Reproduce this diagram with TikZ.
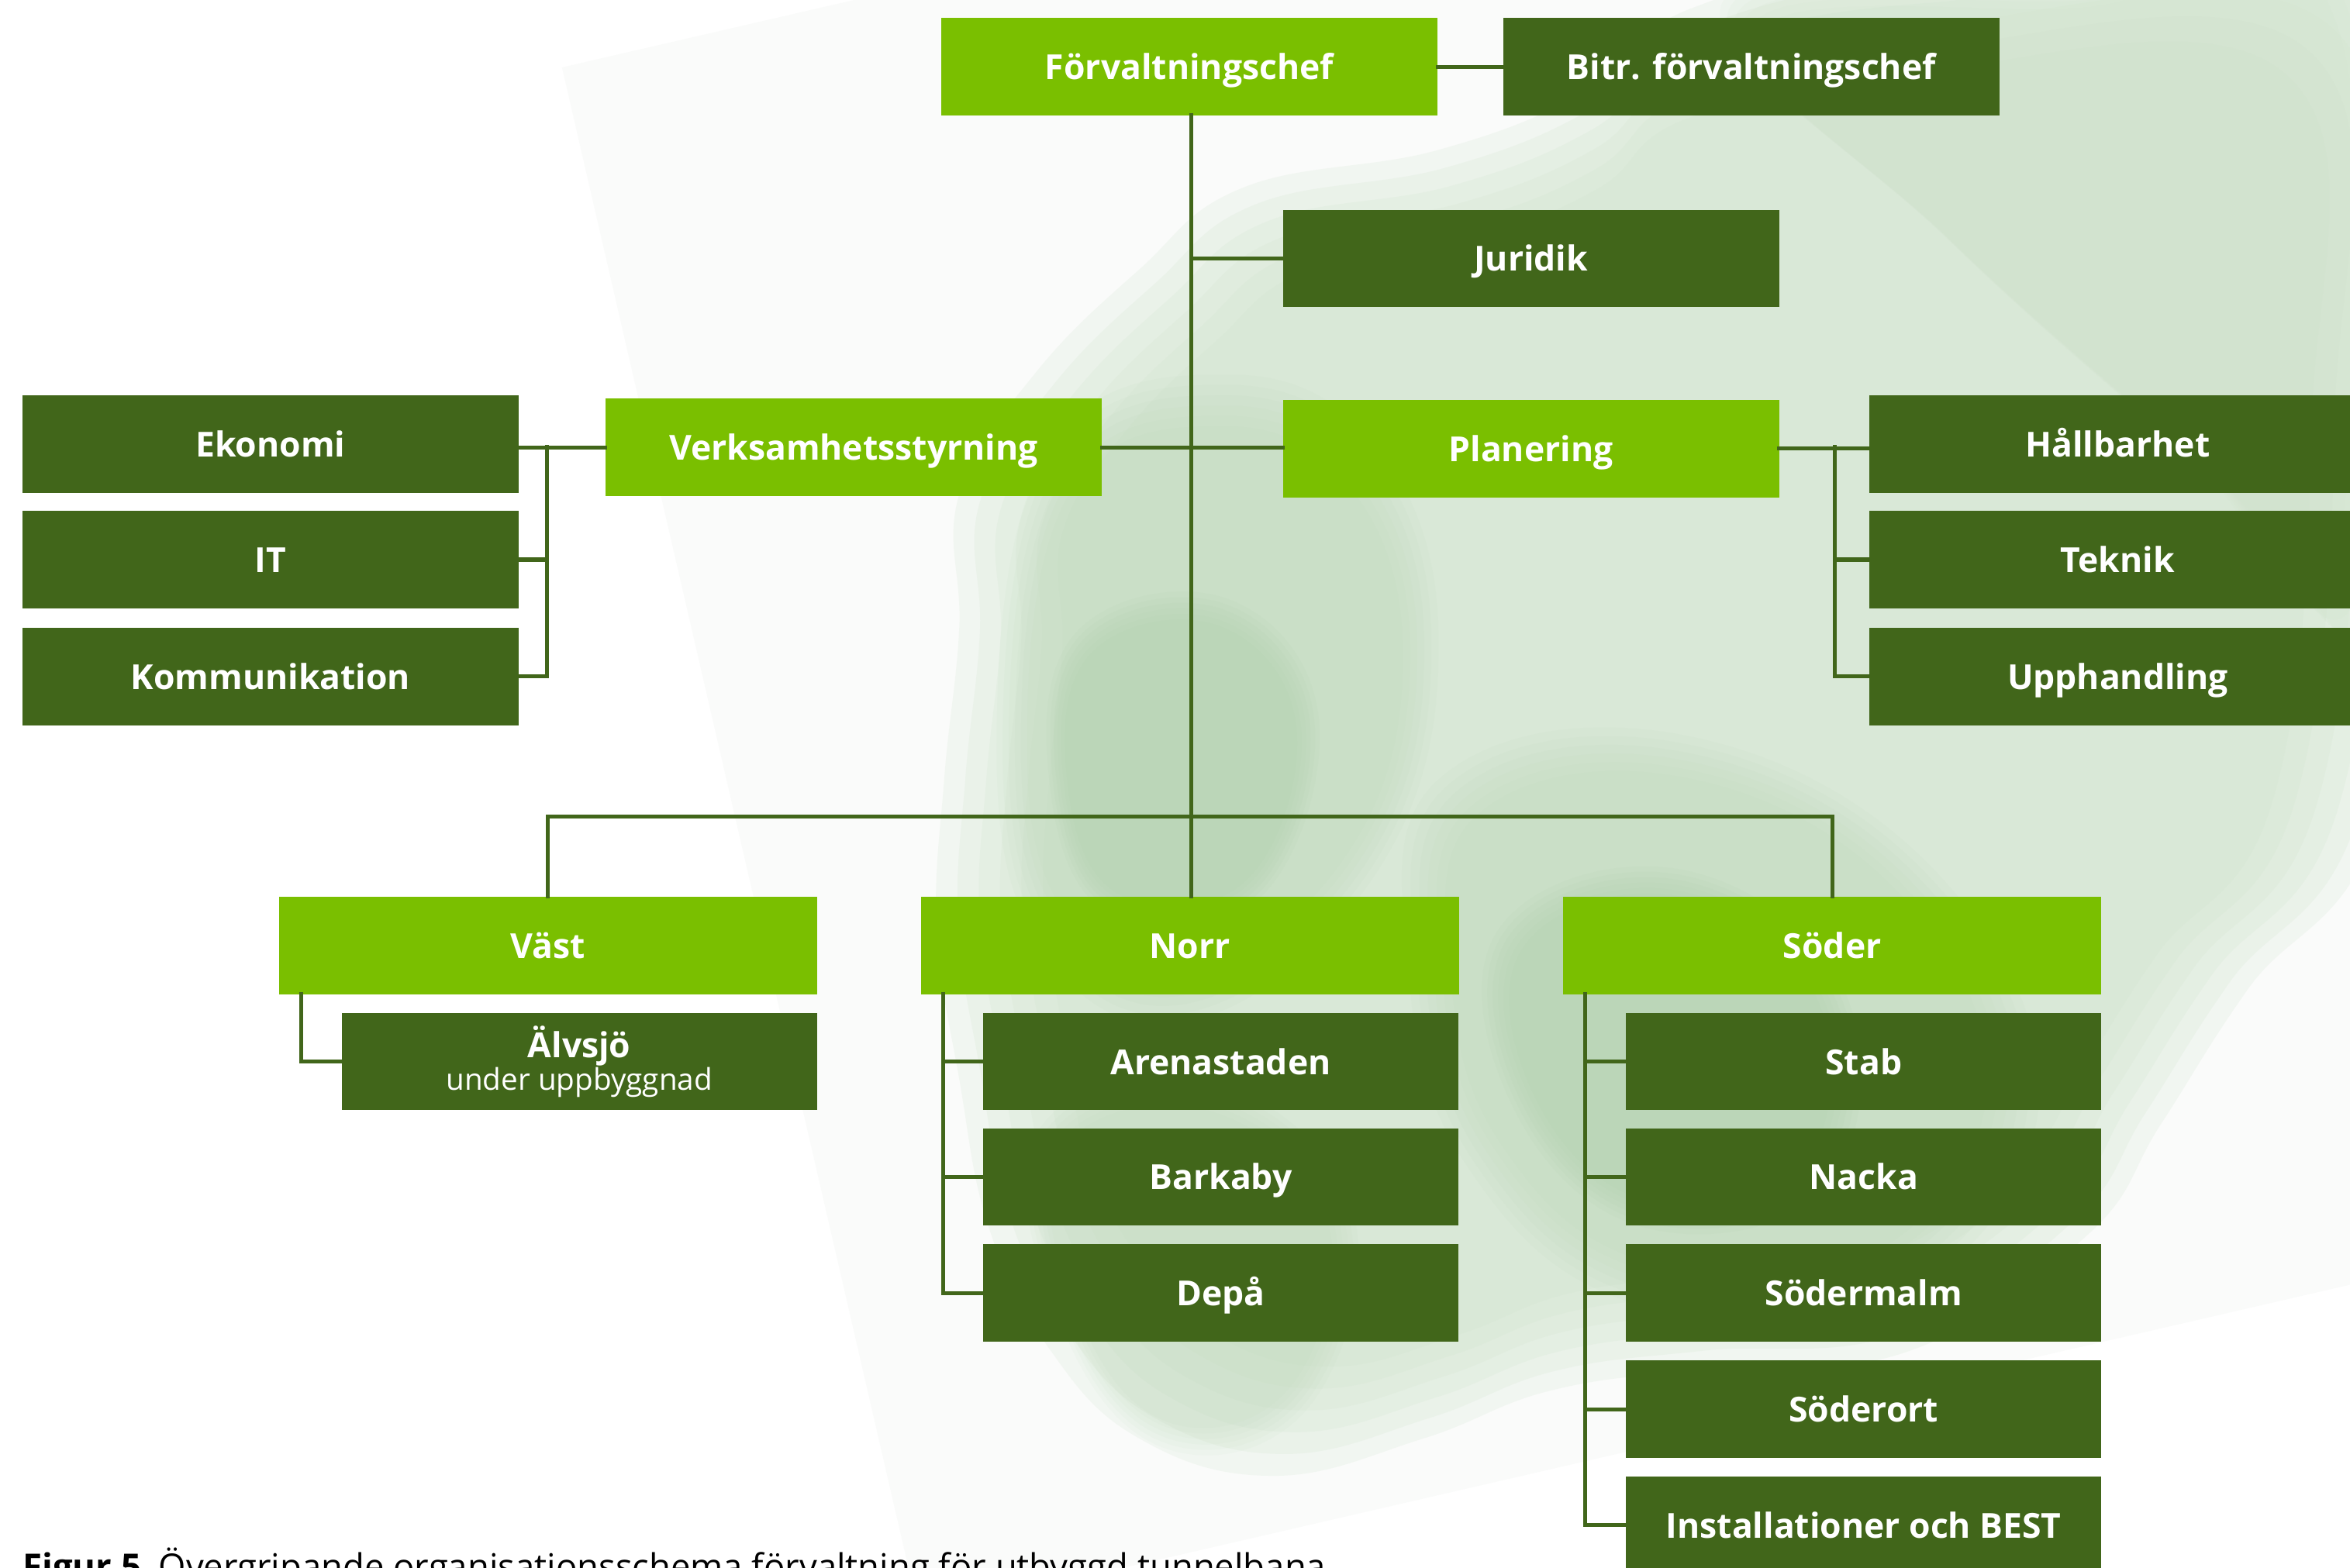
\documentclass[tikz,border=0pt]{standalone}
\usepackage{fontspec}
\setmainfont{Open Sans}
\definecolor{lt}{HTML}{7ABF00}
\definecolor{dk}{HTML}{41661A}
\definecolor{wash1}{HTML}{CFE3CB}
\definecolor{wash2}{HTML}{B4D4B0}
\definecolor{wash3}{HTML}{9CC698}
\definecolor{paper}{HTML}{FAFBFA}
\tikzset{
  box/.style={rectangle, inner sep=0pt, minimum height=65, text=white,
    font=\bfseries\fontsize{23}{27}\selectfont, align=center,
    text height=17pt, text depth=0pt},
  dbox/.style={box, fill=dk, minimum width=331},
  lbox/.style={box, fill=lt, minimum width=331},
  region/.style={box, fill=lt, minimum width=359},
  sub/.style={box, fill=dk, minimum width=317},
  link/.style={draw=dk, line width=2.6pt, line cap=rect}
}
% a patch of wash with soft edges: colour, opacity per layer, centre, outline
\newcommand\softblob[4]{%
  \foreach \s in {1.0,0.97,0.94,0.91,0.88,0.85}{%
    \fill[#1, opacity=#2, scale around={\s:#3}]
      plot[smooth cycle, tension=0.7] coordinates {#4};
  }}
\begin{document}
\begin{tikzpicture}[x=1pt,y=-1pt]
\useasboundingbox (0,0) rectangle (1568,1046.5);
\clip (0,0) rectangle (1568,1046.5);
\fill[white] (0,0) rectangle (1568,1046.5);

% faint sheet of paper behind the wash
\fill[paper, rotate around={13:(375,45)}] (375,45) rectangle ++(1500,1060);

% watercolour wash
\softblob{wash1}{0.19}{(1100,500)}{
  (830,125) (960,100) (1060,60) (1130,5) (1300,-30) (1600,-30) (1620,250)
  (1590,540) (1500,660) (1442,750) (1392,825) (1273,902) (1137,914)
  (1035,928) (950,960) (850,985) (760,960) (700,900) (660,820) (640,720)
  (625,620) (630,520) (640,420) (640,330) (690,250) (760,180)}
\softblob{wash1}{0.10}{(1300,150)}{
  (1150,0) (1400,-20) (1600,-20) (1600,420) (1480,320) (1300,160)}
\softblob{wash2}{0.07}{(800,480)}{
  (700,300) (820,250) (920,300) (960,430) (920,580) (800,680) (700,640)
  (665,500)}
\softblob{wash2}{0.07}{(1130,680)}{
  (960,520) (1120,490) (1290,580) (1360,740) (1260,870) (1090,870)
  (980,780) (940,650)}
\softblob{wash2}{0.06}{(790,850)}{
  (690,760) (800,720) (900,800) (880,930) (790,970) (715,900)}
\softblob{wash3}{0.05}{(780,520)}{
  (720,420) (820,400) (880,480) (840,600) (740,610) (700,520)}
\softblob{wash3}{0.05}{(1110,700)}{
  (1000,620) (1120,580) (1230,660) (1220,790) (1100,820) (1010,740)}

% top level
\node[lbox] (forv) at (793.5,44.5) {Förvaltningschef};
\node[dbox] (bitr) at (1168.5,44.5) {Bitr. förvaltningschef};
\node[dbox] (jur)  at (1021.5,172.5) {Juridik};

% staff functions
\node[lbox] (verk) at (569.5,298.5) {Verksamhetsstyrning};
\node[lbox] (plan) at (1021.5,299.5) {Planering};
\node[dbox] (eko)  at (180.5,296.5) {Ekonomi};
\node[dbox] (it)   at (180.5,373.5) {IT};
\node[dbox] (kom)  at (180.5,451.5) {Kommunikation};
\node[dbox] (hall) at (1413,296.5) {Hållbarhet};
\node[dbox] (tek)  at (1413,373.5) {Teknik};
\node[dbox] (upp)  at (1413,451.5) {Upphandling};

% regions
\node[region] (vast)  at (365.5,631) {Väst};
\node[region] (norr)  at (794,631) {Norr};
\node[region] (soder) at (1222.5,631) {Söder};

\node[sub, text height=, text depth=] (alv) at (386.5,708.5)
  {Älvsjö\\[-5pt]{\mdseries\fontsize{20}{24}\selectfont under uppbyggnad}};

\node[sub] (aren) at (814.5,708.5) {Arenastaden};
\node[sub] (bark) at (814.5,785.5) {Barkaby};
\node[sub] (depa) at (814.5,863) {Depå};

\node[sub] (stab) at (1243.5,708.5) {Stab};
\node[sub] (nack) at (1243.5,785.5) {Nacka};
\node[sub] (sodm) at (1243.5,863) {Södermalm};
\node[sub] (sodo) at (1243.5,940.5) {Söderort};
\node[sub] (inst) at (1243.5,1018) {Installationer och BEST};

% connectors
\coordinate (spine) at (795,77);
\coordinate (bus) at (795,545);
\coordinate (lbr) at (365,298);
\coordinate (rbr) at (1224,298);

\draw[link] (forv.east) -- (bitr.west);
\draw[link] (spine) -- (spine |- norr.north);
\draw[link] (jur.west) -- (jur.west -| spine);
\draw[link] (verk.east) -- (verk.east -| plan.west);
\draw[link] (verk.west) -- (verk.west -| eko.east);
\draw[link] (lbr) |- (kom.east);
\draw[link] (lbr |- it.east) -- (it.east);
\draw[link] (plan.east) -- (plan.east -| hall.west);
\draw[link] (rbr) |- (upp.west);
\draw[link] (rbr |- tek.west) -- (tek.west);
\draw[link] (vast.north) -- (vast.north |- bus) -- (soder.north |- bus) -- (soder.north);

\draw[link] ([xshift=15pt]vast.south west) |- (alv.west);
\draw[link] ([xshift=15pt]norr.south west) |- (depa.west);
\draw[link] ([xshift=15pt]norr.south west |- aren.west) -- (aren.west);
\draw[link] ([xshift=15pt]norr.south west |- bark.west) -- (bark.west);
\draw[link] ([xshift=15pt]soder.south west) |- (inst.west);
\draw[link] ([xshift=15pt]soder.south west |- stab.west) -- (stab.west);
\draw[link] ([xshift=15pt]soder.south west |- nack.west) -- (nack.west);
\draw[link] ([xshift=15pt]soder.south west |- sodm.west) -- (sodm.west);
\draw[link] ([xshift=15pt]soder.south west |- sodo.west) -- (sodo.west);

% caption
\node[anchor=base west, inner sep=0pt, font=\fontsize{23.5}{27}\selectfont]
  (cap) at (15,1054) {\textbf{Figur 5}\enspace Övergripande organisationsschema förvaltning för utbyggd tunnelbana};
\end{tikzpicture}
\end{document}
